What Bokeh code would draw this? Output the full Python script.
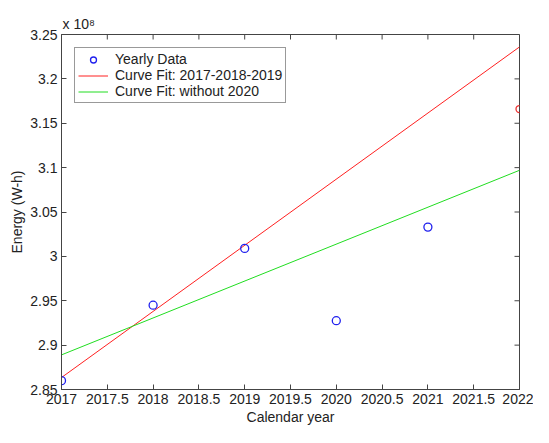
import math
from bokeh.plotting import figure
from bokeh.models import (ColumnDataSource, FixedTicker, Range1d, Legend, LegendItem)
from bokeh.embed import file_html
from bokeh.resources import INLINE

# ---- data (units of 1e8 W-h) ----
years = [2017, 2018, 2019, 2020, 2021]
energy = [2.860, 2.945, 3.009, 2.9275, 3.033]
pred_year = [2022]
pred_energy = [3.166]
fit_years = [2017, 2022]
fit_2017_2019 = [2.8635, 3.236]
fit_without_2020 = [2.889, 3.097]

x_ticks = [2017, 2017.5, 2018, 2018.5, 2019, 2019.5, 2020, 2020.5, 2021, 2021.5, 2022]
x_tick_labels = ["2017", "2017.5", "2018", "2018.5", "2019", "2019.5", "2020",
                 "2020.5", "2021", "2021.5", "2022"]
y_ticks = [2.85, 2.9, 2.95, 3.0, 3.05, 3.1, 3.15, 3.2, 3.25]
y_tick_labels = ["2.85", "2.9", "2.95", "3", "3.05", "3.1", "3.15", "3.2", "3.25"]

FONT = "Liberation Sans"
AX = "#444444"
TXT = "#222222"

p = figure(width=533, height=427, output_backend="svg", toolbar_location=None,
           x_range=Range1d(x_ticks[0], x_ticks[-1]),
           y_range=Range1d(y_ticks[0], y_ticks[-1]),
           min_border_left=61, min_border_right=14, min_border_top=34,
           min_border_bottom=37)
p.background_fill_color = "white"
p.border_fill_color = "white"
p.outline_line_color = AX
p.outline_line_width = 1
p.xgrid.visible = False
p.ygrid.visible = False

# exponent marker above the axis, as in the reference
p.title.text = "x 10\u2078"
p.title.align = "left"
p.title.offset = 1
p.title.standoff = 5
p.title.text_font = FONT
p.title.text_font_size = "14px"
p.title.text_font_style = "normal"
p.title.text_color = TXT


def style_axis(ax, ticks, labels):
    ax.ticker = FixedTicker(ticks=ticks)
    ax.major_label_overrides = {t: l for t, l in zip(ticks, labels)}
    ax.major_tick_in = 5
    ax.major_tick_out = 0
    ax.minor_tick_line_color = None
    ax.axis_line_color = AX
    ax.major_tick_line_color = AX
    ax.major_label_text_font = FONT
    ax.major_label_text_color = TXT
    ax.major_label_text_font_size = "14px"
    ax.major_label_standoff = 4
    ax.axis_label_text_font = FONT
    ax.axis_label_text_font_size = "14px"
    ax.axis_label_text_font_style = "normal"
    ax.axis_label_text_color = TXT
    ax.axis_label_standoff = 2


style_axis(p.xaxis[0], x_ticks, x_tick_labels)
style_axis(p.yaxis[0], y_ticks, y_tick_labels)
p.xaxis[0].axis_label = "Calendar year"
p.yaxis[0].axis_label = "Energy (W-h)"

# inward tick marks on the top and right edges of the box (from the tick arrays)
p.ray(x=x_ticks, y=[y_ticks[-1]] * len(x_ticks), length=5, length_units="screen",
      angle=-math.pi / 2, line_color=AX, line_width=1)
p.ray(x=[x_ticks[-1]] * len(y_ticks), y=y_ticks, length=5, length_units="screen",
      angle=math.pi, line_color=AX, line_width=1)

src = ColumnDataSource(dict(year=years, energy=energy))
fit_src = ColumnDataSource(dict(year=fit_years, a=fit_2017_2019, b=fit_without_2020))
pred_src = ColumnDataSource(dict(year=pred_year, energy=pred_energy))

r_red = p.line("year", "a", source=fit_src, line_color="#ff2020", line_width=1)
r_green = p.line("year", "b", source=fit_src, line_color="#20dd20", line_width=1)
r_pts = p.scatter("year", "energy", source=src, marker="circle", size=8,
                  fill_color=None, line_color="#2020ee", line_width=1.3)
p.scatter("year", "energy", source=pred_src, marker="circle", size=7,
          fill_color=None, line_color="#ee3030", line_width=1.3)

legend = Legend(items=[
    LegendItem(label="Yearly Data", renderers=[r_pts]),
    LegendItem(label="Curve Fit: 2017-2018-2019", renderers=[r_red]),
    LegendItem(label="Curve Fit: without 2020", renderers=[r_green]),
], location="top_left")
legend.margin = 13
legend.padding = 3
legend.spacing = 0
legend.label_text_font = FONT
legend.label_text_font_size = "14px"
legend.label_text_color = TXT
legend.label_height = 15
legend.glyph_height = 15
legend.glyph_width = 30
legend.label_standoff = 7
legend.border_line_color = "#333333"
legend.border_line_width = 1
legend.background_fill_color = "white"
legend.background_fill_alpha = 1
p.add_layout(legend, "center")

open("out.html", "w").write(file_html(p, INLINE))
